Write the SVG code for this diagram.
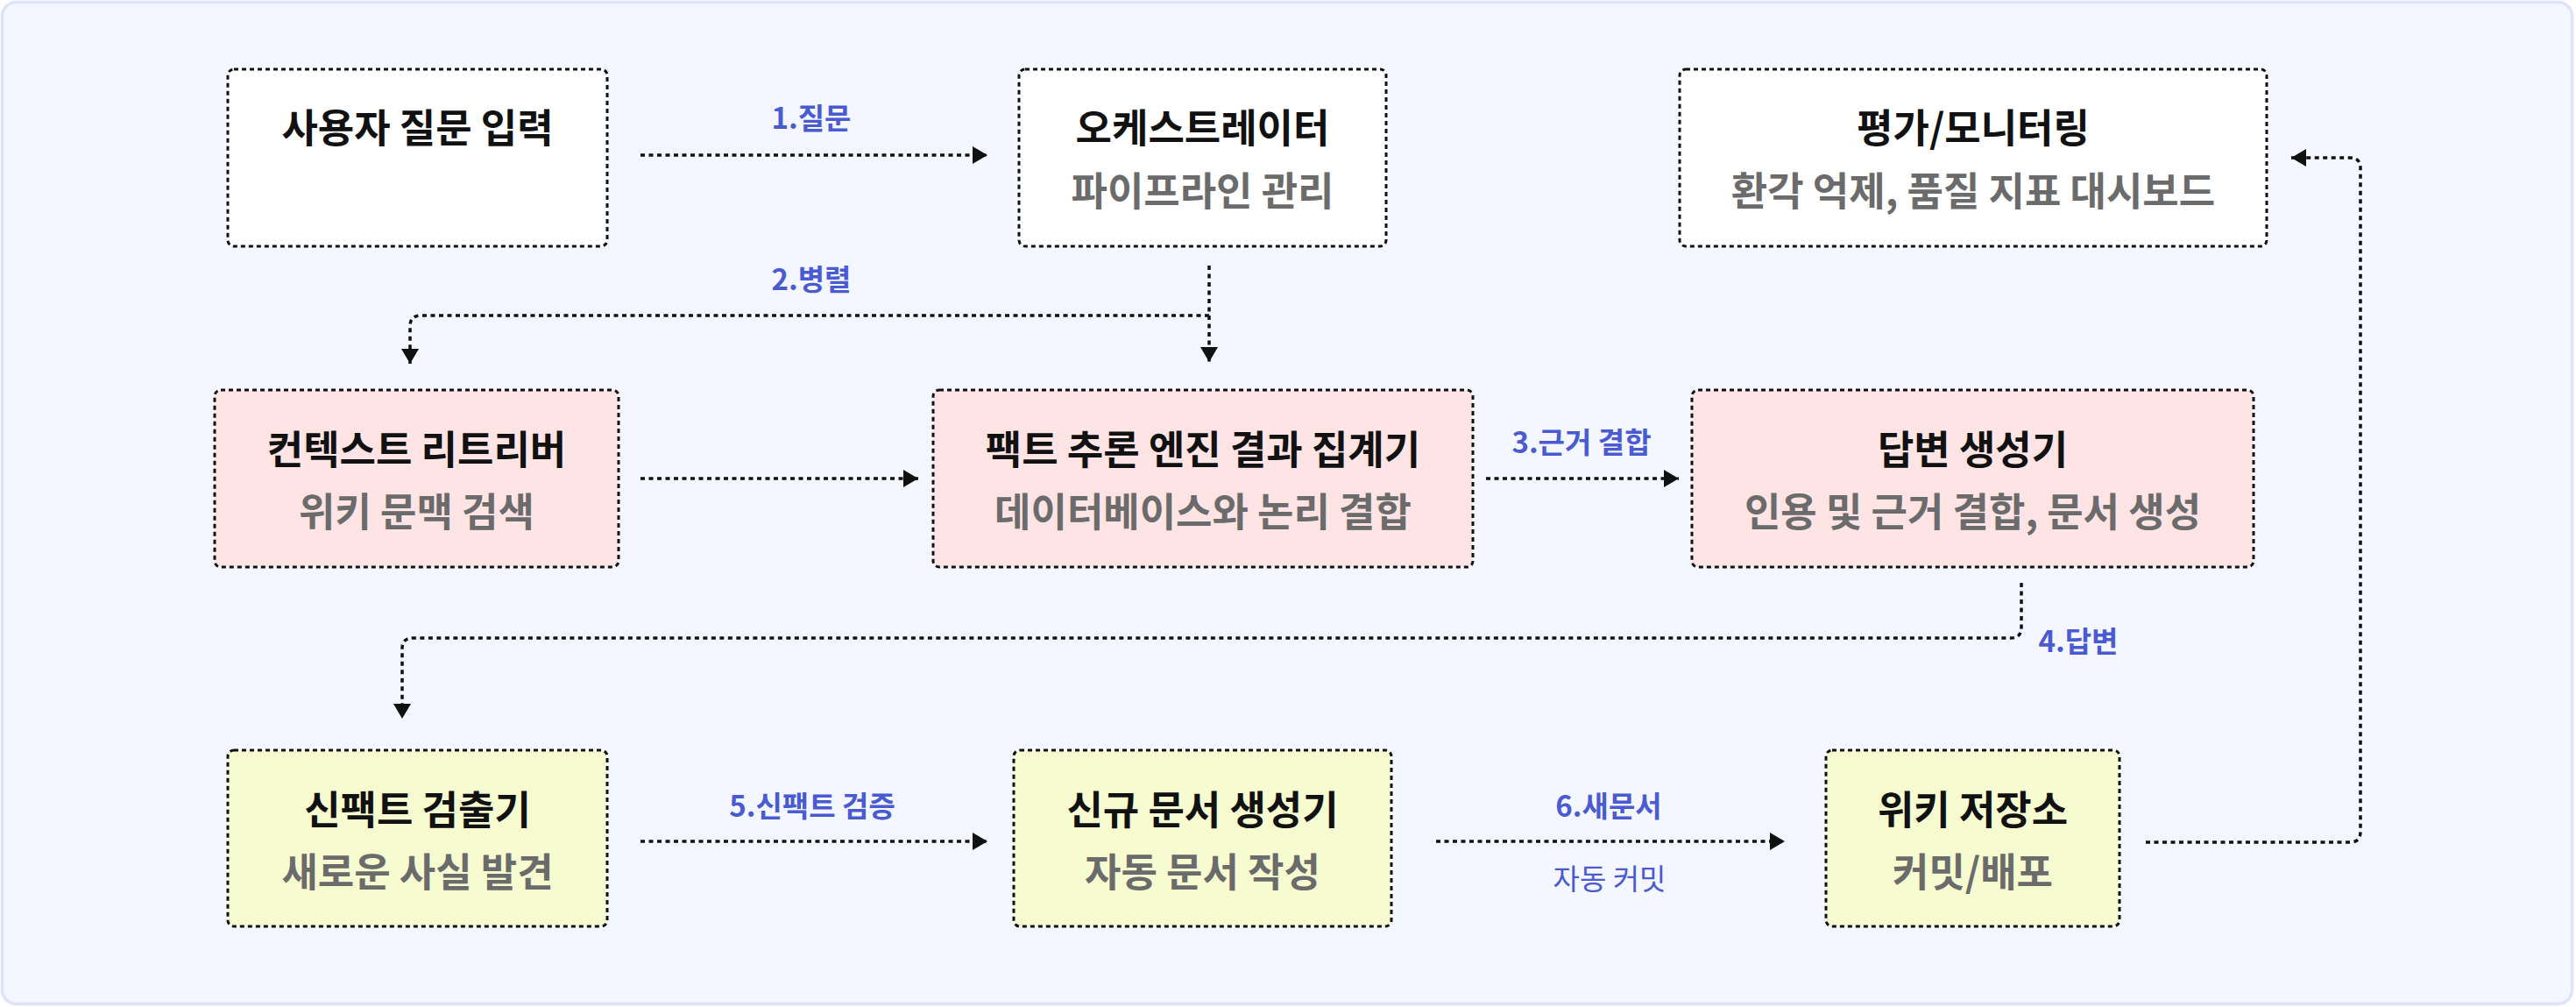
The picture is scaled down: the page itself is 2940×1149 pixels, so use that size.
<svg xmlns="http://www.w3.org/2000/svg" width="2940" height="1149" viewBox="0 0 2940 1149">
<defs>
<style>
.bg{fill:#f4f7ff;stroke:#dde3fb;stroke-width:3.5}
.node{stroke:#111;stroke-width:3;stroke-dasharray:5 4}
.w{fill:#ffffff}
.p{fill:#fee4e4}
.y{fill:#f6fbd0}
.t{font-family:"Noto Sans CJK KR","Noto Sans",sans-serif;font-size:45px;font-weight:700;fill:#111;text-anchor:middle}
.s{font-family:"Noto Sans CJK KR","Noto Sans",sans-serif;font-size:45px;font-weight:700;fill:#6b6b6b;text-anchor:middle}
.l{font-family:"Noto Sans CJK KR","Noto Sans",sans-serif;font-size:33px;font-weight:700;fill:#4a5bd2;text-anchor:middle}
.ln{font-family:"Noto Sans CJK KR","Noto Sans",sans-serif;font-size:33px;font-weight:400;fill:#4a5bd2;text-anchor:middle}
.c{fill:none;stroke:#111;stroke-width:3.5;stroke-dasharray:5 4.5}
</style>
<marker id="ah" markerUnits="userSpaceOnUse" markerWidth="18" markerHeight="20" refX="17" refY="10" orient="auto">
<path d="M0,0 L17,10 L0,20 Z" fill="#111"/>
</marker>
</defs>
<rect class="bg" x="2.5" y="2.5" width="2933" height="1143" rx="16"/>

<g id="connectors">
<path class="c" d="M731,177 H1127" marker-end="url(#ah)"/>
<path class="c" d="M1380,303 V413" marker-end="url(#ah)"/>
<path class="c" d="M1380,360 H480 Q468,360 468,372 V415" marker-end="url(#ah)"/>
<path class="c" d="M731,546 H1048" marker-end="url(#ah)"/>
<path class="c" d="M1696,546 H1916" marker-end="url(#ah)"/>
<path class="c" d="M2307,665 V716 Q2307,728 2295,728 H471 Q459,728 459,740 V820" marker-end="url(#ah)"/>
<path class="c" d="M731,960 H1127" marker-end="url(#ah)"/>
<path class="c" d="M1639,960 H2037" marker-end="url(#ah)"/>
<path class="c" d="M2449,961 H2682 Q2694,961 2694,949 V192 Q2694,180 2682,180 H2615" marker-end="url(#ah)"/>
<text class="l" x="926" y="147">1.질문</text>
<text class="l" x="926" y="331">2.병렬</text>
<text class="l" x="1805" y="517">3.근거 결합</text>
<text class="l" x="2372" y="744">4.답변</text>
<text class="l" x="927" y="932">5.신팩트 검증</text>
<text class="l" x="1836" y="932">6.새문서</text>
<text class="ln" x="1837" y="1015">자동 커밋</text>
</g>

<g id="n1">
<rect class="node w" x="260" y="79" width="433" height="202" rx="7"/>
<text class="t" x="476.5" y="163">사용자 질문 입력</text>
</g>
<g id="n2">
<rect class="node w" x="1163" y="79" width="419" height="202" rx="7"/>
<text class="t" x="1372.5" y="163">오케스트레이터</text>
<text class="s" x="1372.5" y="235">파이프라인 관리</text>
</g>
<g id="n3">
<rect class="node w" x="1917" y="79" width="670" height="202" rx="7"/>
<text class="t" x="2252" y="163">평가/모니터링</text>
<text class="s" x="2252" y="235">환각 억제, 품질 지표 대시보드</text>
</g>
<g id="n4">
<rect class="node p" x="245" y="445" width="461" height="202" rx="7"/>
<text class="t" x="475.5" y="530">컨텍스트 리트리버</text>
<text class="s" x="475.5" y="601">위키 문맥 검색</text>
</g>
<g id="n5">
<rect class="node p" x="1065" y="445" width="616" height="202" rx="7"/>
<text class="t" x="1373" y="530">팩트 추론 엔진 결과 집계기</text>
<text class="s" x="1373" y="601">데이터베이스와 논리 결합</text>
</g>
<g id="n6">
<rect class="node p" x="1931" y="445" width="641" height="202" rx="7"/>
<text class="t" x="2251.5" y="530">답변 생성기</text>
<text class="s" x="2251.5" y="601">인용 및 근거 결합, 문서 생성</text>
</g>
<g id="n7">
<rect class="node y" x="260" y="856" width="433" height="201" rx="7"/>
<text class="t" x="476.5" y="941">신팩트 검출기</text>
<text class="s" x="476.5" y="1012">새로운 사실 발견</text>
</g>
<g id="n8">
<rect class="node y" x="1157" y="856" width="431" height="201" rx="7"/>
<text class="t" x="1372.5" y="941">신규 문서 생성기</text>
<text class="s" x="1372.5" y="1012">자동 문서 작성</text>
</g>
<g id="n9">
<rect class="node y" x="2084" y="856" width="335" height="201" rx="7"/>
<text class="t" x="2251.5" y="941">위키 저장소</text>
<text class="s" x="2251.5" y="1012">커밋/배포</text>
</g>
</svg>
